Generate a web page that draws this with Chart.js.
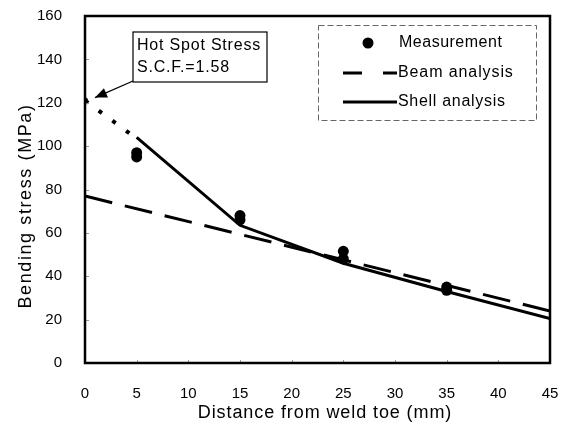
<!DOCTYPE html>
<html>
<head>
<meta charset="utf-8">
<script src="https://cdn.jsdelivr.net/npm/chart.js@4/dist/chart.umd.min.js"></script>
<style>
  html, body { margin: 0; padding: 0; background: #fff; }
  #wrap { width: 564px; height: 432px; }
</style>
</head>
<body>
<div id="wrap"><canvas id="c" width="564" height="432"></canvas></div>
<script>
// 読み取った値
const measureX = [5, 5, 15, 15, 25, 25, 35, 35];
const measureY = [97, 95, 68, 66, 51.5, 48, 35, 33.5];

const beamX = [0, 45];
const beamY = [77, 24];

const shellX = [5, 15, 25, 35, 45];
const shellY = [104, 63.5, 46, 33, 20.5];

const hotSpotX = [0, 5];
const hotSpotY = [121, 103.5];

const xTicks = [0, 5, 10, 15, 20, 25, 30, 35, 40, 45];
const yTicks = [0, 20, 40, 60, 80, 100, 120, 140, 160];

const xTitle = 'Distance from weld toe (mm)';
const yTitle = 'Bending stress (MPa)';
const legendLabels = ['Measurement', 'Beam analysis', 'Shell analysis'];
const noteLines = ['Hot Spot Stress', 'S.C.F.=1.58'];

const FONT = 'Arial, "Liberation Sans", sans-serif';

const toPoints = (xs, ys) => xs.map((x, i) => ({ x, y: ys[i] }));

// 文字間隔つきでテキストを書く
function spacedText(ctx, text, x, y, spacing) {
  ctx.letterSpacing = spacing + 'px';
  ctx.fillText(text, x, y);
  ctx.letterSpacing = '0px';
}

// 枠・目盛・軸タイトル・凡例・注記を描くプラグイン
const decorPlugin = {
  id: 'decor',
  afterDraw(chart) {
    const { ctx, chartArea: a, scales } = chart;
    ctx.save();
    ctx.setLineDash([]);

    // 内向きの小さな目盛
    ctx.strokeStyle = '#999';
    ctx.lineWidth = 1;
    ctx.beginPath();
    yTicks.forEach(v => {
      const py = Math.round(scales.y.getPixelForValue(v)) + 0.5;
      ctx.moveTo(a.left, py);
      ctx.lineTo(a.left + 4, py);
    });
    xTicks.forEach(v => {
      const px = Math.round(scales.x.getPixelForValue(v)) + 0.5;
      ctx.moveTo(px, a.bottom);
      ctx.lineTo(px, a.bottom - 3);
    });
    ctx.stroke();

    // 外枠
    ctx.strokeStyle = '#000';
    ctx.lineWidth = 2.5;
    ctx.strokeRect(a.left, a.top, a.right - a.left, a.bottom - a.top);

    // 軸タイトル
    ctx.fillStyle = '#000';
    ctx.textAlign = 'center';
    ctx.textBaseline = 'alphabetic';
    ctx.font = '18px ' + FONT;
    spacedText(ctx, xTitle, 325, 418, 0.9);

    ctx.save();
    ctx.translate(31, 206);
    ctx.rotate(-Math.PI / 2);
    ctx.font = '18px ' + FONT;
    spacedText(ctx, yTitle, 0, 0, 1.6);
    ctx.restore();

    // 凡例
    const lx = 318, ly = 25, lw = 218, lh = 95;
    ctx.lineWidth = 1;
    ctx.setLineDash([6, 3]);
    ctx.strokeStyle = '#666';
    ctx.strokeRect(lx + 0.5, ly + 0.5, lw, lh);
    ctx.setLineDash([]);
    ctx.strokeStyle = '#000';
    ctx.fillStyle = '#000';
    ctx.font = '16px ' + FONT;
    ctx.textBaseline = 'middle';
    ctx.textAlign = 'left';

    const rows = [43, 73, 102];
    ctx.beginPath();
    ctx.arc(368, rows[0], 5.5, 0, Math.PI * 2);
    ctx.fill();
    spacedText(ctx, legendLabels[0], 399, rows[0], 0.5);

    ctx.lineWidth = 3;
    ctx.setLineDash([19, 21]);
    ctx.beginPath();
    ctx.moveTo(343, rows[1]);
    ctx.lineTo(397, rows[1]);
    ctx.stroke();
    ctx.setLineDash([]);
    spacedText(ctx, legendLabels[1], 398, rows[1], 0.9);

    ctx.beginPath();
    ctx.moveTo(343, rows[2]);
    ctx.lineTo(397, rows[2]);
    ctx.stroke();
    spacedText(ctx, legendLabels[2], 398, rows[2], 0.7);

    // 注記ボックス
    const bx = 133, by = 32, bw = 134, bh = 50;
    ctx.fillStyle = '#fff';
    ctx.fillRect(bx, by, bw, bh);
    ctx.lineWidth = 1.2;
    ctx.strokeRect(bx, by, bw, bh);
    ctx.fillStyle = '#000';
    ctx.font = '16px ' + FONT;
    spacedText(ctx, noteLines[0], bx + 4, by + 14, 0.8);
    spacedText(ctx, noteLines[1], bx + 4, by + 36, 0.8);

    // 矢印
    const tipX = scales.x.getPixelForValue(hotSpotX[0]) + 10;
    const tipY = scales.y.getPixelForValue(hotSpotY[0]) - 3;
    const sx = bx, sy = by + bh - 1;
    const ang = Math.atan2(tipY - sy, tipX - sx);
    ctx.lineWidth = 1.3;
    ctx.beginPath();
    ctx.moveTo(sx, sy);
    ctx.lineTo(tipX, tipY);
    ctx.stroke();
    ctx.beginPath();
    ctx.moveTo(tipX, tipY);
    ctx.lineTo(tipX - 13 * Math.cos(ang - 0.4), tipY - 13 * Math.sin(ang - 0.4));
    ctx.lineTo(tipX - 13 * Math.cos(ang + 0.4), tipY - 13 * Math.sin(ang + 0.4));
    ctx.closePath();
    ctx.fill();

    ctx.restore();
  }
};

new Chart(document.getElementById('c'), {
  type: 'scatter',
  data: {
    datasets: [
      {
        label: 'Hot spot',
        data: toPoints(hotSpotX, hotSpotY),
        showLine: true,
        borderColor: '#000',
        borderWidth: 4,
        borderDash: [4, 13],
        borderCapStyle: 'butt',
        pointRadius: [3, 0],
        pointBackgroundColor: '#000',
        pointBorderWidth: 0
      },
      {
        label: legendLabels[1],
        data: toPoints(beamX, beamY),
        showLine: true,
        borderColor: '#000',
        borderWidth: 3,
        borderDash: [28, 13],
        pointRadius: 0
      },
      {
        label: legendLabels[2],
        data: toPoints(shellX, shellY),
        showLine: true,
        borderColor: '#000',
        borderWidth: 3,
        pointRadius: 0
      },
      {
        label: legendLabels[0],
        data: toPoints(measureX, measureY),
        showLine: false,
        pointRadius: 5.5,
        pointBackgroundColor: '#000',
        pointBorderColor: '#000',
        pointBorderWidth: 0
      }
    ]
  },
  options: {
    responsive: false,
    animation: false,
    layout: { padding: { top: 16, right: 14, left: 0, bottom: 0 } },
    plugins: {
      legend: { display: false },
      tooltip: { enabled: false }
    },
    scales: {
      x: {
        type: 'linear',
        min: 0,
        max: 45,
        afterBuildTicks: s => { s.ticks = xTicks.map(v => ({ value: v })); },
        afterFit: s => { s.height = 69; s.paddingLeft = 0; s.paddingRight = 0; },
        grid: { display: false },
        border: { display: false },
        ticks: {
          color: '#000',
          font: { family: FONT, size: 15 },
          padding: 14,
          maxRotation: 0
        }
      },
      y: {
        min: 0,
        max: 160,
        afterBuildTicks: s => { s.ticks = yTicks.map(v => ({ value: v })); },
        afterFit: s => { s.width = 85; s.paddingTop = 0; s.paddingBottom = 0; },
        grid: { display: false },
        border: { display: false },
        ticks: {
          color: '#000',
          font: { family: FONT, size: 15 },
          padding: 15
        }
      }
    }
  },
  plugins: [decorPlugin]
});
</script>
</body>
</html>
